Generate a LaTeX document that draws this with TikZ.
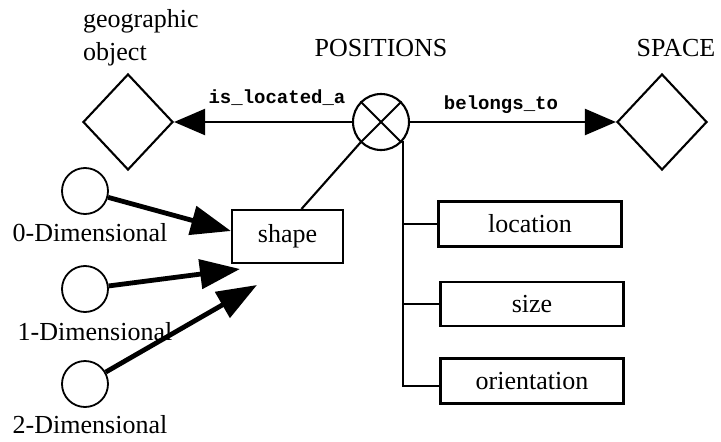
\documentclass[tikz,border=0pt]{standalone}
\usepackage{fontspec}
\setmainfont{Liberation Serif}
\newfontfamily\monofnt{Liberation Mono}
\usetikzlibrary{shapes.geometric,arrows.meta,calc}
\begin{document}
\begin{tikzpicture}[x=1pt,y=-1pt,
  every node/.style={font=\fontsize{26}{33}\selectfont},
  ln/.style={line width=2.1pt},
  diam/.style={diamond, draw, line width=2.1pt, minimum width=90pt, minimum height=96pt, inner sep=0pt},
  box/.style={draw, line width=2.1pt, rectangle, inner sep=0pt},
  smallc/.style={circle, draw, line width=1.8pt, minimum size=46pt, inner sep=0pt},
  relc/.style={circle, draw, line width=2.1pt, minimum size=56pt, inner sep=0pt},
  arr/.style={ln, -{Triangle[length=31pt,width=26pt]}},
  thickarr/.style={line width=4.8pt, -{Triangle[length=40pt,width=29pt]}},
  rellbl/.style={font=\monofnt\bfseries\fontsize{19}{22}\selectfont, inner sep=0pt}
]
\useasboundingbox (0,0) rectangle (721,442);

% entities
\node[diam] (geo) at (128,122) {};
\node[diam] (space) at (662,122) {};
\node[align=left, anchor=west, inner sep=0pt] (geolbl) at (83,38) {geographic\\object};
\node[inner sep=0pt] (spacelbl) at (676,48) {SPACE};

% relationship
\node[relc] (pos) at (381,122) {};
\draw[ln] (pos.45) -- (pos.225);
\draw[ln] (pos.135) -- (pos.315);
\node[inner sep=0pt] (poslbl) at (381,48) {POSITIONS};

\draw[arr] (pos.west) -- (geo.east);
\draw[arr] (pos.east) -- (space.west);
\node[rellbl] (isloc) at (277,98) {is\_located\_a};
\node[rellbl] (belongs) at (501,105) {belongs\_to};

% attributes
\node[box, minimum width=183pt, minimum height=45pt] (loc) at (530,224) {location};
\node[box, minimum width=183pt, minimum height=44pt] (size) at (532,304) {size};
\node[box, minimum width=183pt, minimum height=45pt] (orient) at (532,381) {orientation};
\coordinate (trunk) at (pos.-41);
\draw[ln] (trunk) |- ([yshift=-5pt]orient.west);
\draw[ln] (trunk |- loc.west) -- (loc.west);
\draw[ln] (trunk |- size.west) -- (size.west);

% shape
\node[box, minimum width=111pt, minimum height=53pt] (shape) at (287.5,236.5) {shape};
\draw[ln] ([xshift=14pt]shape.north) -- (pos.225);

% dimensional circles
\node[smallc] (c0) at (85,191) {};
\node[smallc] (c1) at (85,289) {};
\node[smallc] (c2) at (85,384) {};
\node[inner sep=0pt] (l0) at (90,233) {0-Dimensional};
\node[inner sep=0pt] (l1) at (95,332) {1-Dimensional};
\node[inner sep=0pt] (l2) at (90,425) {2-Dimensional};

\coordinate (t1) at (240,269);
\coordinate (t2) at (257,285);
\draw[thickarr] (c0) -- ([yshift=5.5pt]shape.west);
\draw[thickarr] (c1) -- (t1);
\draw[thickarr] (c2) -- (t2);
\end{tikzpicture}
\end{document}
